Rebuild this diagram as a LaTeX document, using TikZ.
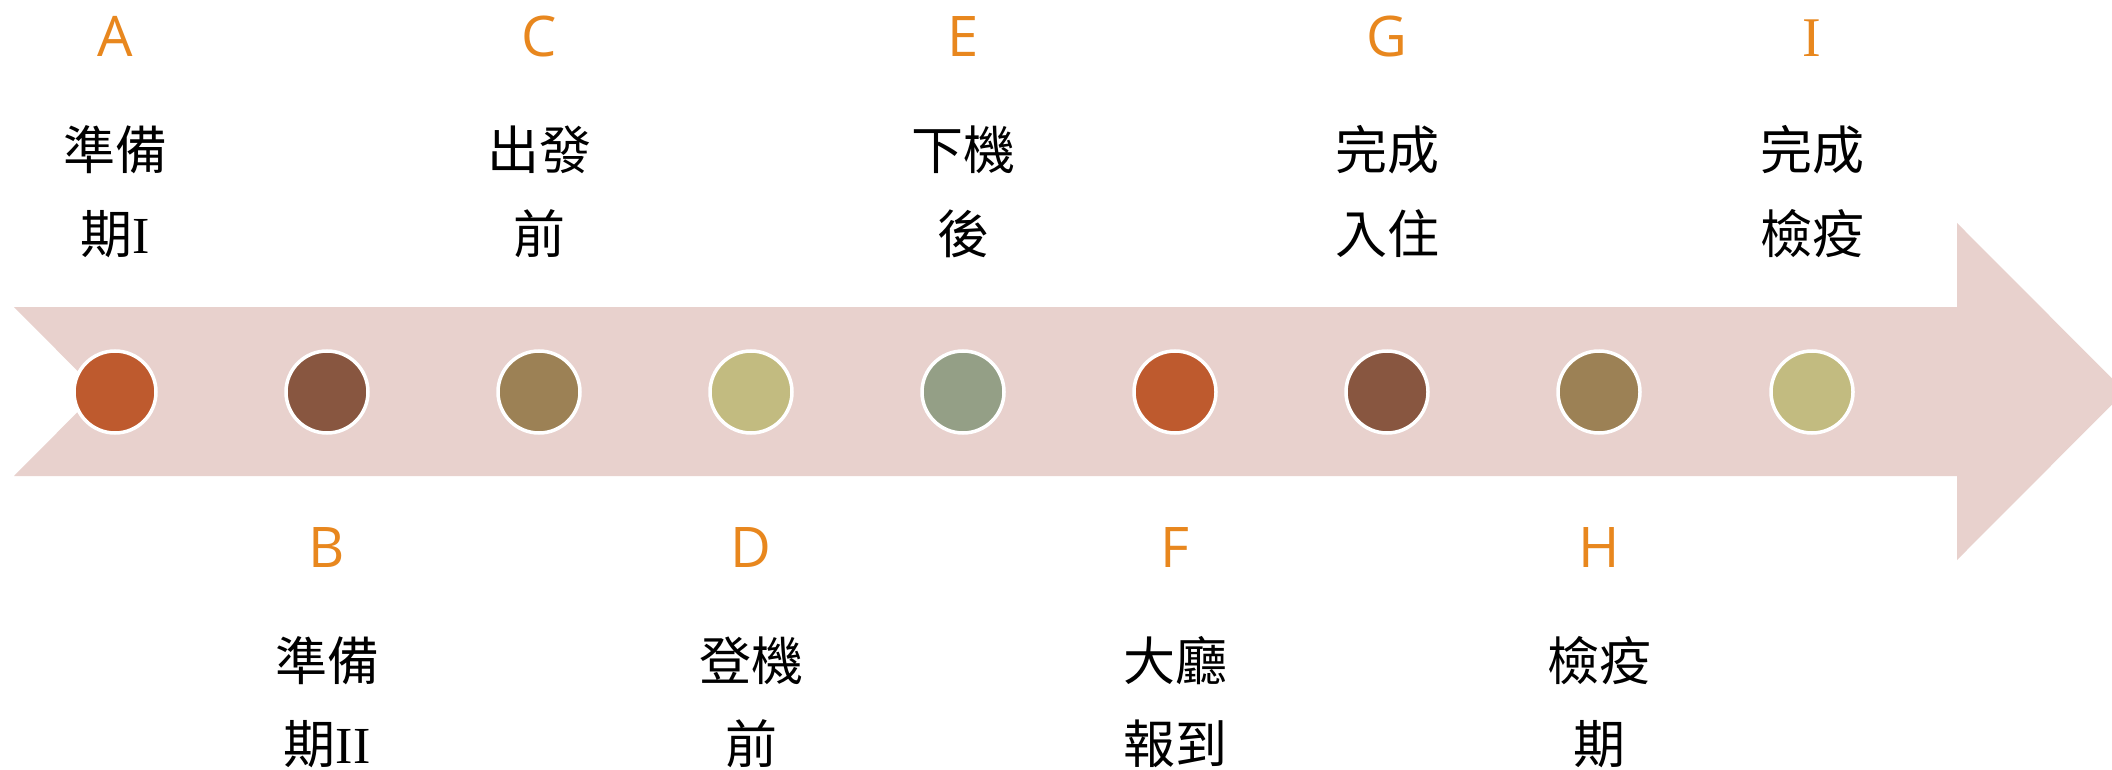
\documentclass[tikz,border=0pt]{standalone}
\usepackage{fontspec}
\setmainfont{Open Sans}
\newfontfamily\cjk{Noto Sans CJK TC}
\newfontfamily\serifI{Liberation Serif}
\definecolor{arrowpink}{HTML}{E8D1CD}
\definecolor{letterorange}{HTML}{E8871E}
\definecolor{cA}{HTML}{BE5A2E}
\definecolor{cB}{HTML}{885640}
\definecolor{cC}{HTML}{9C8155}
\definecolor{cD}{HTML}{C2BB80}
\definecolor{cE}{HTML}{949F86}
\begin{document}
\begin{tikzpicture}[x=1pt,y=-1pt,
  dot/.style={circle,draw=white,line width=3.5pt,minimum size=82pt,inner sep=0pt},
  letter/.style={text=letterorange,font=\fontsize{56}{60}\selectfont,anchor=center,inner sep=0pt,text height=40pt,text depth=0pt},
  cjkline/.style={font=\cjk\fontsize{52}{60}\selectfont,anchor=center,inner sep=0pt,text height=42pt,text depth=6pt}]
\clip (0,0) rectangle (2112,770);
\fill[white] (0,0) rectangle (2112,770);
\fill[arrowpink] (14,307) -- (1957,307) -- (1957,223) -- (2125,391.5) -- (1957,560) -- (1957,476) -- (14,476) -- (98,391.5) -- cycle;
% circles
\node[dot,fill=cA] (dA) at (115,392) {};
\node[dot,fill=cB] (dB) at (327,392) {};
\node[dot,fill=cC] (dC) at (539,392) {};
\node[dot,fill=cD] (dD) at (751,392) {};
\node[dot,fill=cE] (dE) at (963,392) {};
\node[dot,fill=cA] (dF) at (1175,392) {};
\node[dot,fill=cB] (dG) at (1387,392) {};
\node[dot,fill=cC] (dH) at (1599,392) {};
\node[dot,fill=cD] (dI) at (1812,392) {};
% top letters
\node[letter] (lA) at (115,37) {A};
\node[letter] (lC) at (539,37) {C};
\node[letter] (lE) at (963,37) {E};
\node[letter] (lG) at (1387,37) {G};
\node[letter] (lI) at (1812,37) {\serifI I};
% bottom letters
\node[letter] (lB) at (327,547) {B};
\node[letter] (lD) at (751,547) {D};
\node[letter] (lF) at (1175,547) {F};
\node[letter] (lH) at (1599,547) {H};
% top labels
\node[cjkline] (tA1) at (115,152) {準備};
\node[cjkline] (tA2) at (115,236) {期{\serifI I}};
\node[cjkline] (tC1) at (539,152) {出發};
\node[cjkline] (tC2) at (539,236) {前};
\node[cjkline] (tE1) at (963,152) {下機};
\node[cjkline] (tE2) at (963,236) {後};
\node[cjkline] (tG1) at (1387,152) {完成};
\node[cjkline] (tG2) at (1387,236) {入住};
\node[cjkline] (tI1) at (1812,152) {完成};
\node[cjkline] (tI2) at (1812,236) {檢疫};
% bottom labels
\node[cjkline] (bB1) at (327,662) {準備};
\node[cjkline] (bB2) at (327,745) {期{\serifI II}};
\node[cjkline] (bD1) at (751,662) {登機};
\node[cjkline] (bD2) at (751,745) {前};
\node[cjkline] (bF1) at (1175,662) {大廳};
\node[cjkline] (bF2) at (1175,745) {報到};
\node[cjkline] (bH1) at (1599,662) {檢疫};
\node[cjkline] (bH2) at (1599,745) {期};
\end{tikzpicture}
\end{document}
